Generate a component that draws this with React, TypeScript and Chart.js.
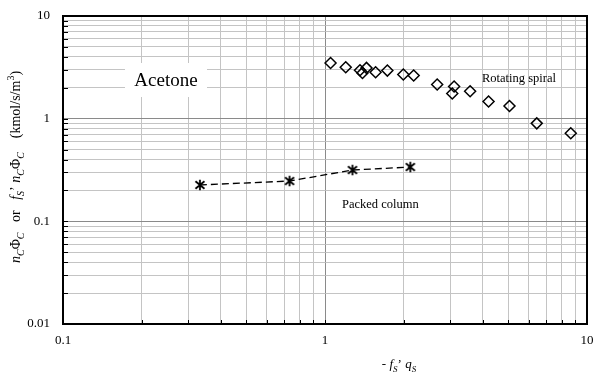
import React, { useEffect, useRef } from 'react';
import { Chart, registerables } from 'chart.js';

Chart.register(...registerables);

// Rotating spiral (diamonds)
const spiralX = [1.05, 1.20, 1.36, 1.39, 1.44, 1.56, 1.73, 1.99, 2.18, 2.68, 3.11, 3.06, 3.58, 4.21, 5.06, 6.43, 8.67];
const spiralY = [3.49, 3.17, 2.96, 2.79, 3.12, 2.83, 2.94, 2.69, 2.63, 2.15, 2.06, 1.76, 1.85, 1.47, 1.33, 0.90, 0.72];

// Packed column (stars, dashed line)
const packedX = [0.333, 0.732, 1.273, 2.117];
const packedY = [0.226, 0.247, 0.316, 0.338];

// Axis decades and labels
const xDecades = [0.1, 1];
const xMax = 10;
const yDecades = [0.01, 0.1, 1];
const yMax = 10;
const xTickLabels = ['0.1', '1', '10'];
const yTickLabels = ['0.01', '0.1', '1', '10'];

const FONT = '"Liberation Serif", "Times New Roman", Times, serif';

function logTicks(decades: number[], max: number) {
  const out: number[] = [];
  decades.forEach((d) => {
    for (let m = 1; m <= 9; m++) out.push(Number((m * d).toPrecision(6)));
  });
  out.push(max);
  return out;
}

function isPow10(v: number) {
  const l = Math.log10(v);
  return Math.abs(l - Math.round(l)) < 1e-9;
}

type Seg = { t: string; i?: boolean; sub?: boolean; sup?: boolean };

function drawRich(ctx: CanvasRenderingContext2D, segs: Seg[], cx: number, baseY: number, size: number) {
  const small = Math.round(size * 0.72);
  const fontFor = (s: Seg) => `${s.i ? 'italic ' : ''}${s.sub || s.sup ? small : size}px ${FONT}`;
  let total = 0;
  const widths = segs.map((s) => {
    ctx.font = fontFor(s);
    const w = ctx.measureText(s.t).width;
    total += w;
    return w;
  });
  let x = cx - total / 2;
  ctx.textAlign = 'left';
  ctx.textBaseline = 'alphabetic';
  ctx.fillStyle = '#000';
  segs.forEach((s, k) => {
    ctx.font = fontFor(s);
    const dy = s.sub ? size * 0.28 : s.sup ? -size * 0.4 : 0;
    ctx.fillText(s.t, x, baseY + dy);
    x += widths[k];
  });
}

const yTitle: Seg[] = [
  { t: 'n', i: true }, { t: 'C', i: true, sub: true }, { t: 'Φ' }, { t: 'C', i: true, sub: true },
  { t: '   or   ' },
  { t: 'f', i: true }, { t: 'S', i: true, sub: true }, { t: '\u2019 ' },
  { t: 'n', i: true }, { t: 'C', i: true, sub: true }, { t: 'Φ' }, { t: 'C', i: true, sub: true },
  { t: '    (kmol/s/m' }, { t: '3', sup: true }, { t: ')' },
];

const xTitle: Seg[] = [
  { t: '- ' }, { t: 'f', i: true }, { t: 'S', i: true, sub: true }, { t: '\u2019 ' },
  { t: 'q', i: true }, { t: 'S', i: true, sub: true },
];

function makeStar(): HTMLCanvasElement {
  const c = document.createElement('canvas');
  c.width = 12;
  c.height = 12;
  const g = c.getContext('2d')!;
  g.strokeStyle = '#000';
  g.lineWidth = 1.8;
  g.beginPath();
  g.moveTo(6, 0.8); g.lineTo(6, 11.2);
  g.moveTo(1.5, 2.2); g.lineTo(10.5, 9.8);
  g.moveTo(10.5, 2.2); g.lineTo(1.5, 9.8);
  g.stroke();
  return c;
}

const decorPlugin = {
  id: 'decor',
  beforeDatasetsDraw(chart: any) {
    const ctx: CanvasRenderingContext2D = chart.ctx;
    const { left, bottom } = chart.chartArea;
    const xs = chart.scales.x;
    const ys = chart.scales.y;
    ctx.save();
    // inner tick marks
    ctx.strokeStyle = '#000';
    ctx.lineWidth = 1;
    ctx.beginPath();
    xs.ticks.forEach((t: any) => {
      const px = Math.round(xs.getPixelForValue(t.value)) + 0.5;
      ctx.moveTo(px, bottom);
      ctx.lineTo(px, bottom - 4);
    });
    ys.ticks.forEach((t: any) => {
      const py = Math.round(ys.getPixelForValue(t.value)) + 0.5;
      ctx.moveTo(left, py);
      ctx.lineTo(left + 5, py);
    });
    ctx.stroke();

    // Acetone label with white box
    ctx.fillStyle = '#fff';
    ctx.fillRect(125, 63, 82, 34);
    ctx.fillStyle = '#000';
    ctx.font = `19px ${FONT}`;
    ctx.textAlign = 'center';
    ctx.textBaseline = 'middle';
    ctx.fillText('Acetone', 166, 81);

    ctx.font = `12.5px ${FONT}`;
    ctx.textAlign = 'left';
    ctx.fillText('Rotating spiral', 482, 79);
    ctx.fillText('Packed column', 342, 205);
    ctx.restore();
  },
  afterDraw(chart: any) {
    const ctx: CanvasRenderingContext2D = chart.ctx;
    const { left, right, top, bottom } = chart.chartArea;
    ctx.save();
    ctx.strokeStyle = '#000';
    ctx.lineWidth = 2;
    ctx.strokeRect(left, top, right - left, bottom - top);

    // y title
    ctx.translate(20, 167);
    ctx.rotate(-Math.PI / 2);
    drawRich(ctx, yTitle, 0, 0, 14);
    ctx.setTransform(1, 0, 0, 1, 0, 0);

    // x title
    drawRich(ctx, xTitle, 399, 368, 13);
    ctx.restore();
  },
};

export default function App() {
  const ref = useRef<HTMLCanvasElement>(null);

  useEffect(() => {
    document.body.style.margin = '0';
    const star = makeStar();
    const xTicks = logTicks(xDecades, xMax);
    const yTicks = logTicks(yDecades, yMax);

    const chart = new Chart(ref.current!, {
      type: 'scatter',
      data: {
        datasets: [
          {
            label: 'Rotating spiral',
            data: spiralX.map((x, i) => ({ x, y: spiralY[i] })),
            pointStyle: 'rectRot',
            pointRadius: 5.5,
            pointBorderWidth: 1.5,
            pointBorderColor: '#000',
            pointBackgroundColor: 'rgba(0,0,0,0)',
            showLine: false,
          },
          {
            label: 'Packed column',
            data: packedX.map((x, i) => ({ x, y: packedY[i] })),
            pointStyle: star as any,
            pointRadius: 5,
            showLine: true,
            borderColor: '#000',
            borderWidth: 1.3,
            borderDash: [7, 4],
            backgroundColor: '#000',
          },
        ],
      },
      options: {
        responsive: false,
        animation: false,
        layout: { padding: { left: 0, right: 6, top: 16, bottom: 0 } },
        plugins: {
          legend: { display: false },
          tooltip: { enabled: false },
        },
        scales: {
          x: {
            type: 'logarithmic',
            min: 0.1,
            max: 10,
            afterBuildTicks: (s: any) => {
              s.ticks = xTicks.map((v) => ({ value: v, major: isPow10(v) }));
            },
            afterFit: (s: any) => {
              s.height = 49;
              s.paddingLeft = 0;
              s.paddingRight = 0;
            },
            grid: {
              drawTicks: false,
              color: (c: any) => (c.tick && isPow10(c.tick.value) ? '#8a8a8a' : '#c4c4c4'),
              lineWidth: 1,
            },
            border: { display: true, color: '#000', width: 2 },
            ticks: {
              autoSkip: false,
              maxRotation: 0,
              padding: 9,
              color: '#000',
              font: { family: FONT, size: 13 },
              callback: (v: any) => {
                const n = Number(v);
                if (!isPow10(n)) return '';
                const idx = Math.round(Math.log10(n) - Math.log10(xDecades[0]));
                return xTickLabels[idx];
              },
            },
          },
          y: {
            type: 'logarithmic',
            min: 0.01,
            max: 10,
            afterBuildTicks: (s: any) => {
              s.ticks = yTicks.map((v) => ({ value: v, major: isPow10(v) }));
            },
            afterFit: (s: any) => {
              s.width = 63;
              s.paddingTop = 0;
              s.paddingBottom = 0;
            },
            grid: {
              drawTicks: false,
              color: (c: any) => (c.tick && isPow10(c.tick.value) ? '#8a8a8a' : '#c4c4c4'),
              lineWidth: 1,
            },
            border: { display: true, color: '#000', width: 2 },
            ticks: {
              autoSkip: false,
              padding: 13,
              color: '#000',
              font: { family: FONT, size: 13 },
              callback: (v: any) => {
                const n = Number(v);
                if (!isPow10(n)) return '';
                const idx = Math.round(Math.log10(n) - Math.log10(yDecades[0]));
                return yTickLabels[idx];
              },
            },
          },
        },
      },
      plugins: [decorPlugin],
    });
    return () => chart.destroy();
  }, []);

  return (
    <div style={{ position: 'fixed', left: 0, top: 0, width: 594, height: 373, background: '#fff' }}>
      <canvas ref={ref} width={594} height={373} style={{ width: 594, height: 373, display: 'block' }} />
    </div>
  );
}
